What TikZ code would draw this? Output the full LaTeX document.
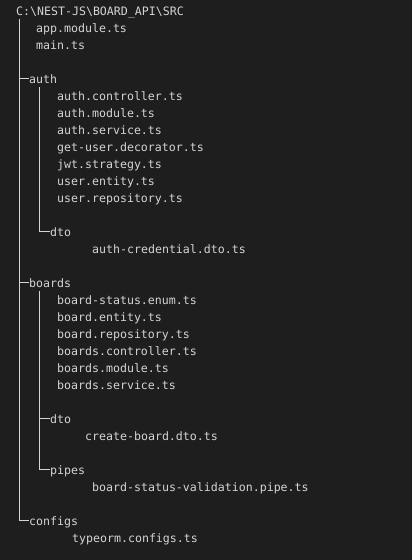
\documentclass[tikz,border=0pt]{standalone}
\usepackage{fontspec}
\setmonofont{DejaVu Sans Mono}
\usepackage{tikz}
\definecolor{vsbg}{HTML}{1E1E1E}
\definecolor{vstext}{HTML}{D4D4D4}
\tikzset{
	entry/.style={anchor=base west, inner sep=0pt, text=vstext, font=\ttfamily\fontsize{11.6}{14}\selectfont, text height=8.8pt, text depth=0pt},
	treeline/.style={draw=vstext, line width=.9pt}
}

\begin{document}
\begin{tikzpicture}[x=1pt,y=-1pt]
	\fill[vsbg] (0,0) rectangle (412,560);
	\useasboundingbox (0,0) rectangle (412,560);
	\node[entry] (src) at (16,15) {C:\textbackslash NEST-JS\textbackslash BOARD\_API\textbackslash SRC};
	\node[entry] (appmodule) at (36,32) {app.module.ts};
	\node[entry] (main) at (36,49) {main.ts};
	
	\node[entry] (auth) at (29,83) {auth};
	\node[entry] (authctrl) at (57,100) {auth.controller.ts};
	\node[entry] (authmodule) at (57,117) {auth.module.ts};
	\node[entry] (authservice) at (57,134) {auth.service.ts};
	\node[entry] (getuser) at (57,151) {get-user.decorator.ts};
	\node[entry] (jwt) at (57,168) {jwt.strategy.ts};
	\node[entry] (userentity) at (57,185) {user.entity.ts};
	\node[entry] (userrepo) at (57,202) {user.repository.ts};
	\node[entry] (authdto) at (50,236) {dto};
	\node[entry] (authcred) at (92,253) {auth-credential.dto.ts};
	
	\node[entry] (boards) at (29,287) {boards};
	\node[entry] (statusenum) at (57,304) {board-status.enum.ts};
	\node[entry] (boardentity) at (57,321) {board.entity.ts};
	\node[entry] (boardrepo) at (57,338) {board.repository.ts};
	\node[entry] (boardsctrl) at (57,355) {boards.controller.ts};
	\node[entry] (boardsmodule) at (57,372) {boards.module.ts};
	\node[entry] (boardsservice) at (57,389) {boards.service.ts};
	\node[entry] (boardsdto) at (50,423) {dto};
	\node[entry] (createboard) at (85,440) {create-board.dto.ts};
	\node[entry] (pipes) at (50,474) {pipes};
	\node[entry] (validpipe) at (92,491) {board-status-validation.pipe.ts};
	
	\node[entry] (configs) at (29,525) {configs};
	\node[entry] (typeorm) at (72,542) {typeorm.configs.ts};
	
	\coordinate (srcstem) at ([shift={(3.5pt,-4pt)}]src.south west);
	\coordinate (authstem) at ([shift={(10.5pt,-4pt)}]auth.south west);
	\coordinate (boardsstem) at ([shift={(10.5pt,-4pt)}]boards.south west);
	
	\draw[treeline] (srcstem) |- (auth.west);
	\draw[treeline] (srcstem) |- (boards.west);
	\draw[treeline] (srcstem) |- (configs.west);
	\draw[treeline] (authstem) |- (authdto.west);
	\draw[treeline] (boardsstem) |- (boardsdto.west);
	\draw[treeline] (boardsstem) |- (pipes.west);
\end{tikzpicture}
\end{document}
